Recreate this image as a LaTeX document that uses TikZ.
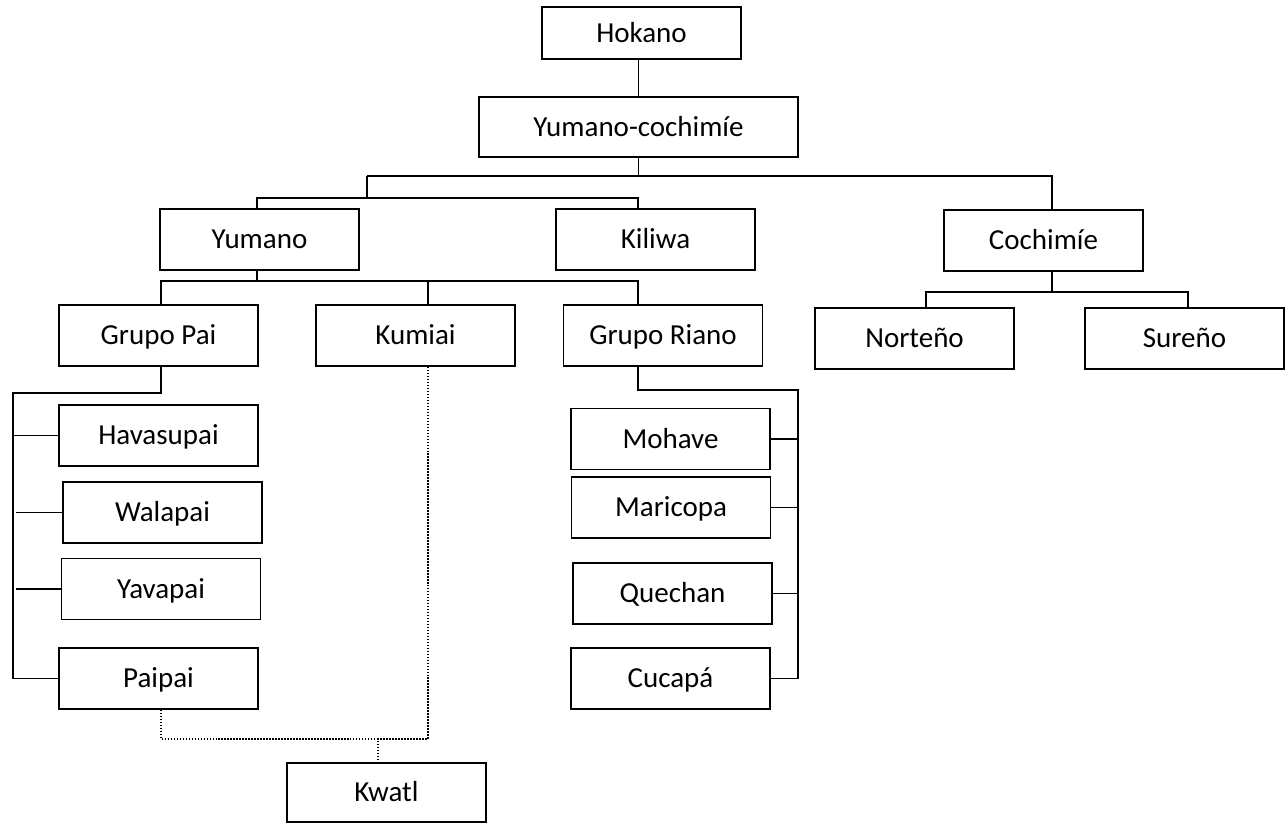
\documentclass[tikz,border=0pt]{standalone}
\usepackage{fontspec}
\setmainfont{Carlito}
\usetikzlibrary{calc}

\begin{document}
\begin{tikzpicture}[x=0.02cm, y=-0.02cm,
  box/.style={draw, line width=1pt, minimum width=3.98cm, minimum height=1.22cm, inner sep=0pt, text height=10.6pt, text depth=0pt, font=\fontsize{16.5}{19}\selectfont},
  link/.style={line width=0.8pt},
  dots/.style={line width=0.9pt, dash pattern=on 0.9pt off 0.8pt}]
\useasboundingbox (0,0) rectangle (1286,824);

% boxes
\node[box, minimum height=1.04cm] (hok) at (641.5,33) {Hokano};
\node[box, minimum width=6.38cm, minimum height=1.2cm] (yc) at (638.5,127) {Yumano-cochimíe};
\node[box] (yum) at (259.5,239.5) {Yumano};
\node[box] (kil) at (655.5,239.5) {Kiliwa};
\node[box] (coch) at (1043.5,240.5) {Cochimíe};
\node[box] (pai) at (158.5,335.5) {Grupo Pai};
\node[box] (kum) at (415.5,335.5) {Kumiai};
\node[box] (riano) at (663,335.5) {Grupo Riano};
\node[box] (nor) at (914.5,338.5) {Norteño};
\node[box] (sur) at (1184.5,338.5) {Sureño};
\node[box] (hav) at (158.5,435.5) {Havasupai};
\node[box] (wal) at (162.5,512.5) {Walapai};
\node[box] (yav) at (161,589) {Yavapai};
\node[box] (paipai) at (158.5,678.5) {Paipai};
\node[box] (moh) at (670.5,439) {Mohave};
\node[box] (mar) at (671,507.5) {Maricopa};
\node[box] (que) at (672.5,593.5) {Quechan};
\node[box] (cuc) at (670.5,678.5) {Cucapá};
\node[box, minimum height=1.18cm] (kwa) at (386.5,792.5) {Kwatl};

% junctions
\coordinate (ja) at (367,176);
\coordinate (jb) at (367,198);
\coordinate (jc) at (1052,176);
\coordinate (jk) at (638,198);
\coordinate (jl) at (161,281);
\coordinate (jm) at (428,281);
\coordinate (jr) at (638,281);
\coordinate (jp) at (13,393);
\coordinate (jq) at (798,390);
\coordinate (jn) at (926,292);
\coordinate (js) at (1188,292);
\coordinate (jw) at (378,739);

% upper levels
\draw[link] (yc.north |- hok.south) -- (yc.north);
\draw[link] (yc.south) -- (yc.south |- ja);
\draw[link] (ja) -- (jc) -- (coch.north -| jc);
\draw[link] (ja) -- (jb);
\draw[link] (yum.north -| 257,0) |- (jk) -- (kil.north -| jk);
\draw[link] (yum.south -| 257,0) -- (257,281);
\draw[link] (pai.north -| jl) |- (jr) -- (riano.north -| jr);
\draw[link] (jm) -- (kum.north -| jm);

% grupo pai
\draw[link] (pai.south -| jl) |- (jp) -- (jp |- paipai.west);
\foreach \n in {hav, paipai}
{	\draw[link] (jp |- \n.west) -- (\n.west);
}
\foreach \n in {wal, yav}
{	\draw[link] ($(jp |- \n.west)+(3,0)$) -- (\n.west);
}

% grupo riano
\draw[link] (riano.south -| jr) |- (jq) -- (jq |- cuc.east);
\foreach \n in {moh, mar, que, cuc}
{	\draw[link] (jq |- \n.east) -- (\n.east);
}

% cochimie
\draw[link] (coch.south -| jc) -- (jc |- jn);
\draw[link] (nor.north -| jn) |- (js) -- (sur.north -| js);

% kwatl
\draw[dots] (paipai.south -| jl) |- (jw) -- (kwa.north -| jw);
\draw[dots] (kum.south -| jm) |- (jw);
\end{tikzpicture}
\end{document}
